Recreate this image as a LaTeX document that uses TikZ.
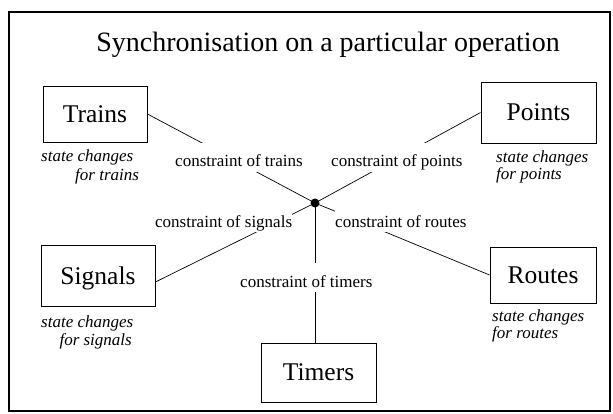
\documentclass[tikz,border=0pt]{standalone}
\usepackage{fontspec}
\setmainfont{Liberation Serif}
\begin{document}
\begin{tikzpicture}[x=1pt,y=-1pt,
  box/.style={draw,line width=0.9pt,inner sep=0pt,text depth=0pt,font=\fontsize{25.5}{28}\selectfont},
  cons/.style={fill=white,inner xsep=0pt,inner ysep=0pt,text height=24pt,text depth=5pt,font=\fontsize{17}{20}\selectfont},
  note/.style={inner sep=0pt,font=\fontsize{17}{20}\selectfont\itshape},
  conn/.style={line width=0.7pt},
  hubdot/.style={circle,fill=black,inner sep=0pt,minimum size=9pt}]
\useasboundingbox (0,0) rectangle (613,414);
\draw[line width=1.3pt] (9,12) rectangle (610,411);
\node[anchor=base,inner sep=0pt,font=\fontsize{28}{32}\selectfont] (title) at (328,52) {Synchronisation on a particular operation};
% boxes
\node[box,minimum width=104pt,minimum height=56pt] (trains) at (95,114) {Trains};
\node[box,minimum width=115pt,minimum height=61pt] (points) at (538.5,112.5) {Points};
\node[box,minimum width=114pt,minimum height=61pt] (signals) at (98,275.5) {Signals};
\node[box,minimum width=106pt,minimum height=56pt] (routes) at (543,275) {Routes};
\node[box,minimum width=115pt,minimum height=59pt] (timers) at (318.5,372.5) {Timers};
% hub
\node[hubdot] (hub) at (315,203) {};
% connectors
\draw[conn] (trains.east) -- (hub.center);
\draw[conn] (points.west) -- (hub.center);
\draw[conn] ([yshift=-6.5pt]signals.east) -- (hub.center);
\draw[conn] (routes.west) -- (hub.center);
\draw[conn] (hub.center) -- (hub.center |- timers.north);
% connector labels
\node[cons,anchor=base west] (ctrains) at (175,167) {constraint of trains};
\node[cons,anchor=base west] (cpoints) at (331,167) {constraint of points};
\node[cons,anchor=base west] (csignals) at (155,227) {constraint of signals};
\node[cons,anchor=base west] (croutes) at (335,227) {constraint of routes};
\node[cons,anchor=base west] (ctimers) at (240,287) {constraint of timers};
% notes
\node[note,anchor=base west] (nt1) at (41,162) {state changes};
\node[note,anchor=base west] (nt2) at (75,181) {for trains};
\node[note,anchor=base west] (np1) at (496,163) {state changes};
\node[note,anchor=base west] (np2) at (496,180) {for points};
\node[note,anchor=base west] (ns1) at (41,327) {state changes};
\node[note,anchor=base east] (ns2) at (132,345) {for signals};
\node[note,anchor=base west] (nr1) at (492,321) {state changes};
\node[note,anchor=base west] (nr2) at (492,338) {for routes};
\end{tikzpicture}
\end{document}
